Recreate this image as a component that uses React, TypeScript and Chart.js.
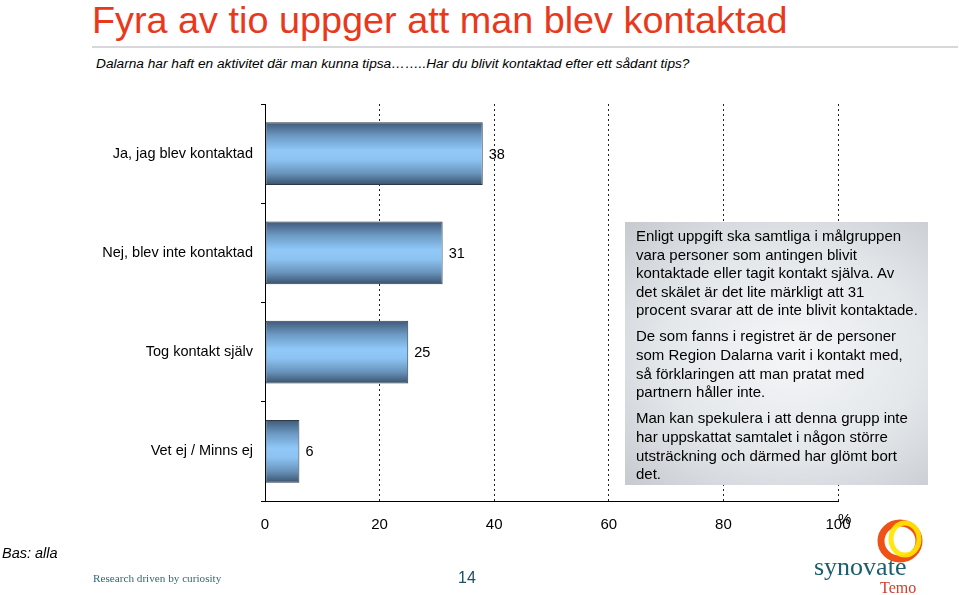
import React, { useEffect, useRef } from "react";
import { Chart, registerables } from "chart.js";

Chart.register(...registerables);

const categories = ["Ja, jag blev kontaktad", "Nej, blev inte kontaktad", "Tog kontakt själv", "Vet ej / Minns ej"];
const values = [38, 31, 25, 6];
const xTicks = [0, 20, 40, 60, 80, 100];

const FONT = '"Liberation Sans", Arial, Helvetica, sans-serif';
const SERIF = '"Liberation Serif", "Times New Roman", serif';
const BAR_PCT = 0.63;

const paragraph1 = [
  "Enligt uppgift ska samtliga i målgruppen",
  "vara personer som antingen blivit",
  "kontaktade eller tagit kontakt själva. Av",
  "det skälet är det lite märkligt att 31",
  "procent svarar att de inte blivit kontaktade.",
];
const paragraph2 = [
  "De som fanns i registret är de personer",
  "som Region Dalarna varit i kontakt med,",
  "så förklaringen att man pratat med",
  "partnern håller inte.",
];
const paragraph3 = [
  "Man kan spekulera i att denna grupp inte",
  "har uppskattat samtalet i någon större",
  "utsträckning och därmed har glömt bort",
  "det.",
];
const paragraphs = [paragraph1, paragraph2, paragraph3];

const valueLabels = {
  id: "valueLabels",
  afterDatasetsDraw(chart: any) {
    const ctx = chart.ctx;
    const meta = chart.getDatasetMeta(0);
    ctx.save();
    ctx.font = `14.5px ${FONT}`;
    ctx.fillStyle = "#000";
    ctx.textBaseline = "middle";
    ctx.textAlign = "left";
    meta.data.forEach((bar: any, i: number) => {
      ctx.fillText(String(values[i]), bar.x + 6, bar.y + 1);
    });
    ctx.restore();
  },
};

function ChartView() {
  const ref = useRef<HTMLCanvasElement | null>(null);
  useEffect(() => {
    if (!ref.current) return;
    const chart = new Chart(ref.current, {
      type: "bar",
      data: {
        labels: categories,
        datasets: [
          {
            data: values,
            borderColor: "#2b3a4a",
            borderWidth: 1,
            borderSkipped: false,
            categoryPercentage: 1,
            barPercentage: BAR_PCT,
            backgroundColor: (c: any) => {
              const ch = c.chart;
              const y = ch.scales && ch.scales.y;
              if (!y || c.type !== "data") return "#8cc4f4";
              const center = y.getPixelForValue(c.dataIndex);
              const band = (y.bottom - y.top) / categories.length;
              const half = (band * BAR_PCT) / 2;
              if (!isFinite(center) || !isFinite(half) || half <= 0) return "#8cc4f4";
              const g = ch.ctx.createLinearGradient(0, center - half, 0, center + half);
              g.addColorStop(0, "#40597a");
              g.addColorStop(0.22, "#6c9ac4");
              g.addColorStop(0.45, "#90c8f8");
              g.addColorStop(0.6, "#8cc3f2");
              g.addColorStop(0.82, "#6892ba");
              g.addColorStop(1, "#3a526c");
              return g;
            },
          },
        ],
      },
      options: {
        indexAxis: "y",
        animation: false,
        responsive: false,
        maintainAspectRatio: false,
        layout: { padding: { left: 0, right: 121, top: 104, bottom: 0 } },
        plugins: { legend: { display: false }, tooltip: { enabled: false } },
        scales: {
          x: {
            min: 0,
            max: 100,
            afterFit: (s: any) => {
              s.height = 94;
            },
            afterBuildTicks: (s: any) => {
              s.ticks = xTicks.map((v) => ({ value: v }));
            },
            ticks: {
              color: "#000",
              font: { family: FONT, size: 15 },
              padding: 15,
              maxRotation: 0,
            },
            grid: {
              drawTicks: false,
              color: (c: any) => (c.tick && c.tick.value === 0 ? "rgba(0,0,0,0)" : "#222"),
              lineWidth: 1,
            },
            border: { display: true, color: "#000", width: 1, dash: [2, 3] },
          },
          y: {
            afterFit: (s: any) => {
              s.width = 265;
            },
            ticks: {
              color: "#000",
              font: { family: FONT, size: 14.5 },
              padding: 8,
            },
            grid: {
              offset: true,
              drawOnChartArea: false,
              drawTicks: true,
              tickLength: 4,
              color: "#000",
            },
            border: { display: true, color: "#000", width: 1 },
          },
        },
      },
      plugins: [valueLabels],
    } as any);
    return () => chart.destroy();
  }, []);
  return (
    <canvas
      ref={ref}
      width={959}
      height={595}
      style={{ position: "absolute", left: 0, top: 0, width: 959, height: 595 }}
    />
  );
}

export default function App() {
  return (
    <div
      style={{
        position: "fixed",
        left: 0,
        top: 0,
        width: 959,
        height: 595,
        background: "#fff",
        overflow: "hidden",
        fontFamily: FONT,
      }}
    >
      <div
        style={{
          position: "absolute",
          left: 92,
          top: -2,
          fontSize: 37.8,
          color: "#e8391d",
          whiteSpace: "nowrap",
          lineHeight: "44px",
        }}
      >
        Fyra av tio uppger att man blev kontaktad
      </div>
      <div style={{ position: "absolute", left: 92, top: 46, width: 866, height: 2, background: "#d8d8da" }} />
      <div
        style={{
          position: "absolute",
          left: 96,
          top: 55,
          fontSize: 13.7,
          fontStyle: "italic",
          color: "#000",
          whiteSpace: "nowrap",
          lineHeight: "17px",
        }}
      >
        Dalarna har haft en aktivitet där man kunna tipsa{"\u2026\u2026.."}Har du blivit kontaktad efter ett sådant tips?
      </div>
      <ChartView />
      <div
        style={{
          position: "absolute",
          left: 625,
          top: 222,
          width: 303,
          height: 263,
          background: "radial-gradient(ellipse at 55% 50%, #f4f6f8 0%, #e4e7ea 55%, #c6cacf 100%)",
          boxSizing: "border-box",
          padding: "5px 0 0 11px",
          fontSize: 15,
          lineHeight: "18.6px",
          color: "#000",
          whiteSpace: "nowrap",
        }}
      >
        {paragraphs.map((p, i) => (
          <div key={i} style={{ marginBottom: 7.5 }}>
            {p.map((line, j) => (
              <div key={j}>{line}</div>
            ))}
          </div>
        ))}
      </div>
      <div style={{ position: "absolute", left: 838, top: 510, fontSize: 15, color: "#000", lineHeight: "17px" }}>%</div>
      <div
        style={{ position: "absolute", left: 2, top: 545, fontSize: 14.5, fontStyle: "italic", color: "#000", lineHeight: "17px" }}
      >
        Bas: alla
      </div>
      <div
        style={{
          position: "absolute",
          left: 93,
          top: 572,
          fontSize: 11.2,
          fontFamily: SERIF,
          color: "#2c6a78",
          lineHeight: "13px",
          whiteSpace: "nowrap",
        }}
      >
        Research driven by curiosity
      </div>
      <div style={{ position: "absolute", left: 458, top: 569, fontSize: 16, color: "#1e4f6a", lineHeight: "18px" }}>14</div>
      <svg style={{ position: "absolute", left: 870, top: 510 }} width={64} height={60}>
        <ellipse cx={30} cy={31} rx={19} ry={18} fill="none" stroke="#ee5216" strokeWidth={7} />
        <ellipse cx={35} cy={29} rx={14} ry={16} fill="none" stroke="#ffe600" strokeWidth={5} opacity={0.92} />
      </svg>
      <div
        style={{
          position: "absolute",
          left: 814,
          top: 552,
          fontSize: 26,
          fontFamily: SERIF,
          color: "#1b5e6e",
          lineHeight: "30px",
          whiteSpace: "nowrap",
        }}
      >
        synovate
      </div>
      <div
        style={{
          position: "absolute",
          left: 880,
          top: 579,
          fontSize: 16,
          fontFamily: SERIF,
          color: "#d2402a",
          lineHeight: "18px",
        }}
      >
        Temo
      </div>
    </div>
  );
}
